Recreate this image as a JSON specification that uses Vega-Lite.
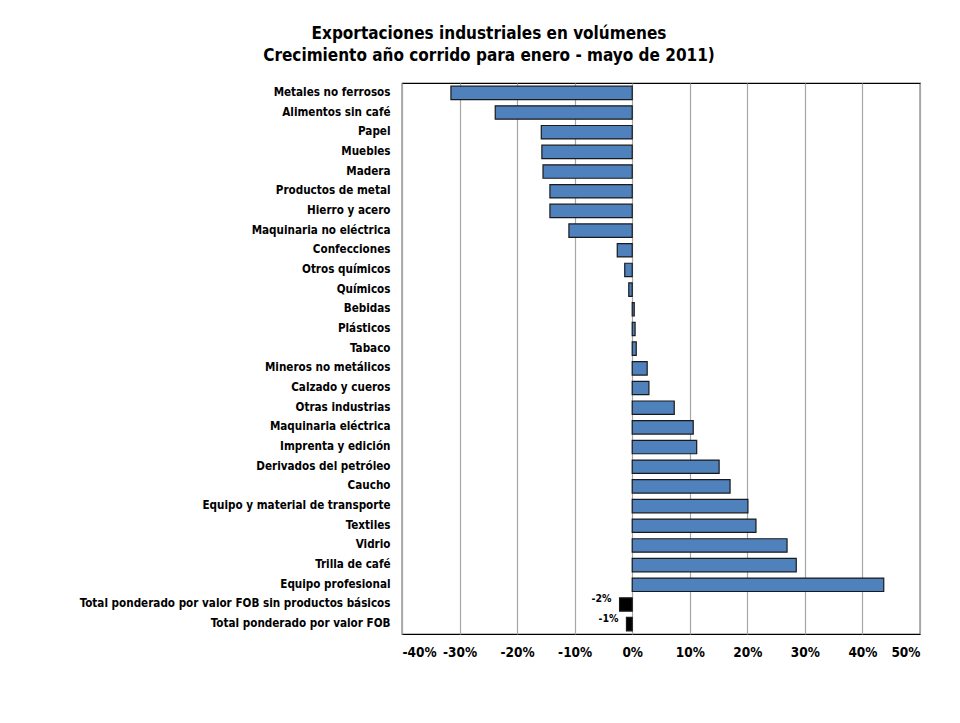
{
  "$schema": "https://vega.github.io/schema/vega-lite/v6.json",
  "width": 518,
  "height": 551,
  "autosize": {"type": "none"},
  "padding": {"left": 402, "top": 83, "right": 40, "bottom": 89},
  "background": "white",
  "config": {
    "font": "DejaVu Sans Condensed, sans-serif",
    "view": {"stroke": "#000000", "strokeWidth": 1.2}
  },
  "title": {
    "text": ["Exportaciones industriales en volúmenes", "Crecimiento año corrido para enero - mayo de 2011)"],
    "font": "DejaVu Sans Condensed, sans-serif",
    "fontSize": 17,
    "fontWeight": "bold",
    "color": "#000000",
    "anchor": "middle",
    "dx": -172,
    "lineHeight": 22,
    "offset": 18
  },
  "data": {
    "values": [
      {"sector": "Metales no ferrosos", "valor": -31.5, "tipo": "sector"},
      {"sector": "Alimentos sin café", "valor": -23.8, "tipo": "sector"},
      {"sector": "Papel", "valor": -15.8, "tipo": "sector"},
      {"sector": "Muebles", "valor": -15.7, "tipo": "sector"},
      {"sector": "Madera", "valor": -15.5, "tipo": "sector"},
      {"sector": "Productos de metal", "valor": -14.3, "tipo": "sector"},
      {"sector": "Hierro y acero", "valor": -14.3, "tipo": "sector"},
      {"sector": "Maquinaria no eléctrica", "valor": -11.0, "tipo": "sector"},
      {"sector": "Confecciones", "valor": -2.6, "tipo": "sector"},
      {"sector": "Otros químicos", "valor": -1.3, "tipo": "sector"},
      {"sector": "Químicos", "valor": -0.6, "tipo": "sector"},
      {"sector": "Bebidas", "valor": 0.35, "tipo": "sector"},
      {"sector": "Plásticos", "valor": 0.5, "tipo": "sector"},
      {"sector": "Tabaco", "valor": 0.7, "tipo": "sector"},
      {"sector": "Mineros no metálicos", "valor": 2.6, "tipo": "sector"},
      {"sector": "Calzado y cueros", "valor": 2.9, "tipo": "sector"},
      {"sector": "Otras industrias", "valor": 7.3, "tipo": "sector"},
      {"sector": "Maquinaria eléctrica", "valor": 10.6, "tipo": "sector"},
      {"sector": "Imprenta y edición", "valor": 11.2, "tipo": "sector"},
      {"sector": "Derivados del petróleo", "valor": 15.1, "tipo": "sector"},
      {"sector": "Caucho", "valor": 17.0, "tipo": "sector"},
      {"sector": "Equipo y material de transporte", "valor": 20.1, "tipo": "sector"},
      {"sector": "Textiles", "valor": 21.5, "tipo": "sector"},
      {"sector": "Vidrio", "valor": 26.9, "tipo": "sector"},
      {"sector": "Trilla de café", "valor": 28.5, "tipo": "sector"},
      {"sector": "Equipo profesional", "valor": 43.7, "tipo": "sector"},
      {"sector": "Total ponderado por valor FOB sin productos básicos", "valor": -2.2, "tipo": "total", "etiqueta": "-2%"},
      {"sector": "Total ponderado por valor FOB", "valor": -1.0, "tipo": "total", "etiqueta": "-1%"}
    ]
  },
  "encoding": {
    "y": {
      "field": "sector",
      "type": "nominal",
      "sort": null,
      "scale": {"paddingInner": 0.32, "paddingOuter": 0.16},
      "axis": {
        "title": null,
        "domain": false,
        "ticks": false,
        "labelPadding": 12,
        "labelFontSize": 11.6,
        "labelFontWeight": "bold",
        "labelColor": "#000000",
        "labelLimit": 400,
        "grid": false
      }
    },
    "x": {
      "field": "valor",
      "type": "quantitative",
      "scale": {"domain": [-40, 50], "nice": false},
      "axis": {
        "title": null,
        "values": [-40, -30, -20, -10, 0, 10, 20, 30, 40, 50],
        "labelExpr": "datum.value + '%'",
        "domain": false,
        "ticks": false,
        "labelPadding": 11,
        "labelFontSize": 13.5,
        "labelFontWeight": "bold",
        "labelColor": "#000000",
        "grid": true,
        "gridColor": "#a6a6a6",
        "gridWidth": 1.2
      }
    }
  },
  "layer": [
    {
      "mark": {"type": "bar", "stroke": "#1a1a1a", "strokeWidth": 1.2},
      "encoding": {
        "color": {
          "field": "tipo",
          "type": "nominal",
          "scale": {"domain": ["sector", "total"], "range": ["#4f81bd", "#000000"]},
          "legend": null
        }
      }
    },
    {
      "transform": [{"filter": "datum.tipo == 'total'"}],
      "mark": {"type": "text", "align": "right", "baseline": "middle", "dx": -8, "dy": -5, "fontSize": 10.5, "fontWeight": "bold", "color": "#000000"},
      "encoding": {
        "text": {"field": "etiqueta"}
      }
    }
  ]
}
